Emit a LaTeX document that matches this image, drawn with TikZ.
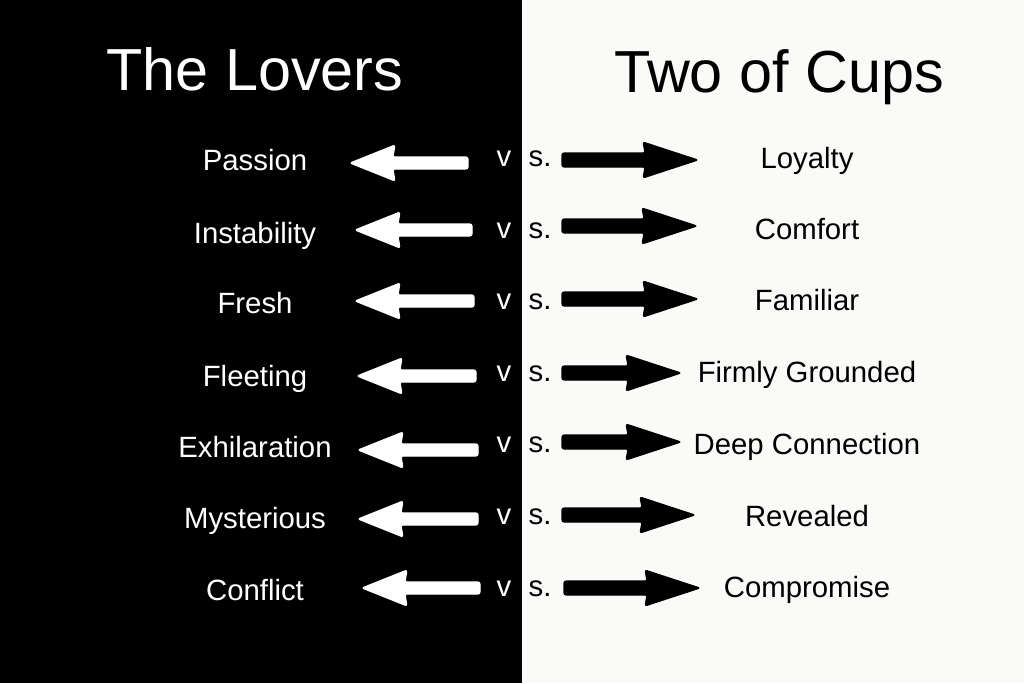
\documentclass[tikz,border=0pt]{standalone}
\usepackage{fontspec}
\setmainfont{Liberation Sans}
\definecolor{paper}{HTML}{FAFAF8}
\begin{document}
\begin{tikzpicture}[x=0.75pt,y=-0.75pt,
  lbl/.style={font=\fontsize{22}{24}\selectfont,inner sep=0pt,anchor=base},
  ttl/.style={font=\fontsize{44.5}{50}\selectfont,inner sep=0pt,anchor=base},
  wa/.style={fill=white,draw=white,line width=0.8pt,rounded corners=1.5pt,line join=round},
  ba/.style={fill=black,draw=black,line width=0.8pt,rounded corners=1.5pt,line join=round}]
\useasboundingbox (0,0) rectangle (1024,683);
\fill[black] (0,0) rectangle (522,683);
\fill[paper] (522,0) rectangle (1024,683);
\node[ttl,text=white] (t1) at (255,90) {The Lovers};
\node[ttl,text=black] (t2) at (779,92) {Two of Cups};
% left labels
\foreach \n/\y/\t in {a/170.5/Passion,b/243/Instability,c/313/Fresh,d/386/Fleeting,e/457/Exhilaration,f/528/Mysterious,g/600/Conflict}
  \node[lbl,text=white] (L\n) at (255,\y) {\t};
% right labels
\foreach \n/\y/\t in {a/168/Loyalty,b/239/Comfort,c/310/Familiar,d/382/Firmly Grounded,e/454/Deep Connection,f/526/Revealed,g/597/Compromise}
  \node[lbl,text=black] (R\n) at (807,\y) {\t};
% v s.
\foreach \n/\y in {a/166,b/238,c/309.5,d/381,e/452,f/524,g/596}{
  \node[lbl,text=white] (v\n) at (504,\y) {v};
  \node[lbl,text=black] (s\n) at (540,\y) {s.};
}
% white arrows: tip, tail, y
\foreach \tp/\tl/\y in {350/468/163,355/472/230,355/474/301,357/476/376,358/478/450,358/478/519,362/480/588}{
  \draw[wa] (\tp,\y) -- (\tp+45,\y-18) -- (\tp+43,\y-6) -- (\tl,\y-6) -- (\tl,\y+6) -- (\tp+43,\y+6) -- (\tp+45,\y+18) -- cycle;
}
% black arrows: tail, tip, y
\foreach \tl/\tp/\y in {562/698/160,562/697/226,562/698/299,562/681/373,562/681/442,562/695/515,564/700/588}{
  \draw[ba] (\tl,\y-7) -- (\tp-53,\y-7) -- (\tp-55,\y-18) -- (\tp,\y) -- (\tp-55,\y+18) -- (\tp-53,\y+7) -- (\tl,\y+7) -- cycle;
}
\end{tikzpicture}
\end{document}
